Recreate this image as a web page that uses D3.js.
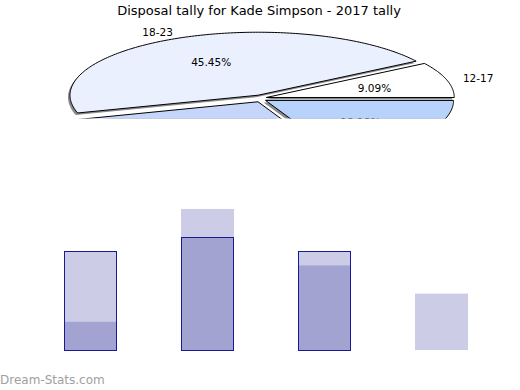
<!DOCTYPE html>
<html><head><meta charset="utf-8">
<script src="https://cdn.jsdelivr.net/npm/d3@7"></script>
<style>body{margin:0;background:#fff}svg{display:block}</style>
</head><body>
<script>
const title = "Disposal tally for Kade Simpson - 2017 tally";
const categories = ["12-17", "18-23", "24-29", "30-35"];
const tallyCounts = [1, 5, 3, 2];          // games in each disposal band (pie + light bars)
const outlinedValues = [3.5, 4, 3.5, 0];   // outlined bar series
const sliceColors = ["#ffffff", "#eaf0fe", "#c5d6fa", "#b8d3fb"];
const watermark = "Dream-Stats.com";

const W = 520, H = 390;
const svg = d3.select("body").append("svg").attr("width", W).attr("height", H)
  .style("font-family", "'DejaVu Sans', sans-serif");

svg.append("text").attr("x", 259).attr("y", 15).attr("text-anchor", "middle")
  .attr("font-size", 13).attr("fill", "#000").text(title);

// ---------- 3D-ish exploded pie (clipped panel) ----------
svg.append("clipPath").attr("id", "pieclip").append("rect")
  .attr("x", 0).attr("y", 20).attr("width", W).attr("height", 98.5);
const pieG = svg.append("g").attr("clip-path", "url(#pieclip)");
const cx = 260.5, cy = 98.5, rx = 188, ry = 63, explode = 6;
const arcs = d3.pie().sort(null).startAngle(0).endAngle(2 * Math.PI)(tallyCounts);
const total = d3.sum(tallyCounts);
const line = d3.line();
function slicePts(a) {
  const mid = (a.startAngle + a.endAngle) / 2;
  const ox = cx + explode * Math.cos(mid), oy = cy - explode * 0.6 * Math.sin(mid);
  const pts = [[ox, oy]];
  const n = Math.max(8, Math.ceil((a.endAngle - a.startAngle) * 60));
  for (let i = 0; i <= n; i++) {
    const t = a.startAngle + (a.endAngle - a.startAngle) * i / n;
    pts.push([ox + rx * Math.cos(t), oy - ry * Math.sin(t)]);
  }
  return {pts, ox, oy, mid};
}
const geo = arcs.map(slicePts);
pieG.selectAll("path.shadow").data(geo).join("path").attr("class", "shadow")
  .attr("d", g => line(g.pts) + "Z").attr("transform", "translate(-2,2)")
  .attr("fill", "#8a8a8a").attr("stroke", "none");
pieG.selectAll("path.top").data(geo).join("path").attr("class", "top")
  .attr("d", g => line(g.pts) + "Z")
  .attr("fill", (g, i) => sliceColors[i]).attr("stroke", "#000").attr("stroke-width", 1)
  .attr("stroke-linejoin", "round");
// percentage labels
pieG.selectAll("text.pct").data(geo).join("text").attr("class", "pct")
  .attr("x", g => g.ox + rx * 0.6 * Math.cos(g.mid))
  .attr("y", g => g.oy - ry * 0.6 * Math.sin(g.mid) + 1)
  .attr("dy", "0.35em").attr("text-anchor", "middle").attr("font-size", 10.5)
  .text((g, i) => (tallyCounts[i] / total * 100).toFixed(2) + "%");
// category labels
svg.append("g").attr("clip-path", "url(#pieclip)").selectAll("text.cat").data(geo).join("text")
  .attr("x", g => g.ox + rx * 1.09 * Math.cos(g.mid))
  .attr("y", g => g.oy - ry * 1.09 * Math.sin(g.mid))
  .attr("dy", "0.35em")
  .attr("text-anchor", g => Math.cos(g.mid) >= 0 ? "start" : "end")
  .attr("font-size", 10.5).text((g, i) => categories[i]);

// ---------- bars ----------
const x = d3.scaleBand().domain(categories).range([32, 500]).paddingInner(0.547).paddingOuter(0.2735);
const y = d3.scaleLinear().domain([0, 5]).range([350, 209]);
const barG = svg.append("g");
barG.selectAll("rect.tally").data(categories).join("rect").attr("class", "tally")
  .attr("x", d => x(d)).attr("width", x.bandwidth())
  .attr("y", (d, i) => y(tallyCounts[i])).attr("height", (d, i) => y(0) - y(tallyCounts[i]))
  .attr("fill", "#000080").attr("fill-opacity", 0.2);
barG.selectAll("rect.outl").data(categories.filter((d, i) => outlinedValues[i] > 0)).join("rect").attr("class", "outl")
  .attr("x", d => x(d) + 0.5).attr("width", x.bandwidth() - 1)
  .attr("y", d => Math.round(y(outlinedValues[categories.indexOf(d)])) + 0.5)
  .attr("height", d => y(0) - Math.round(y(outlinedValues[categories.indexOf(d)])))
  .attr("fill", "#000080").attr("fill-opacity", 0.2)
  .attr("stroke", "#1a1a99").attr("stroke-width", 1);

svg.append("text").attr("x", 0).attr("y", 384).attr("font-size", 12)
  .attr("fill", "#a0a0a0").text(watermark);
</script>
</body></html>
